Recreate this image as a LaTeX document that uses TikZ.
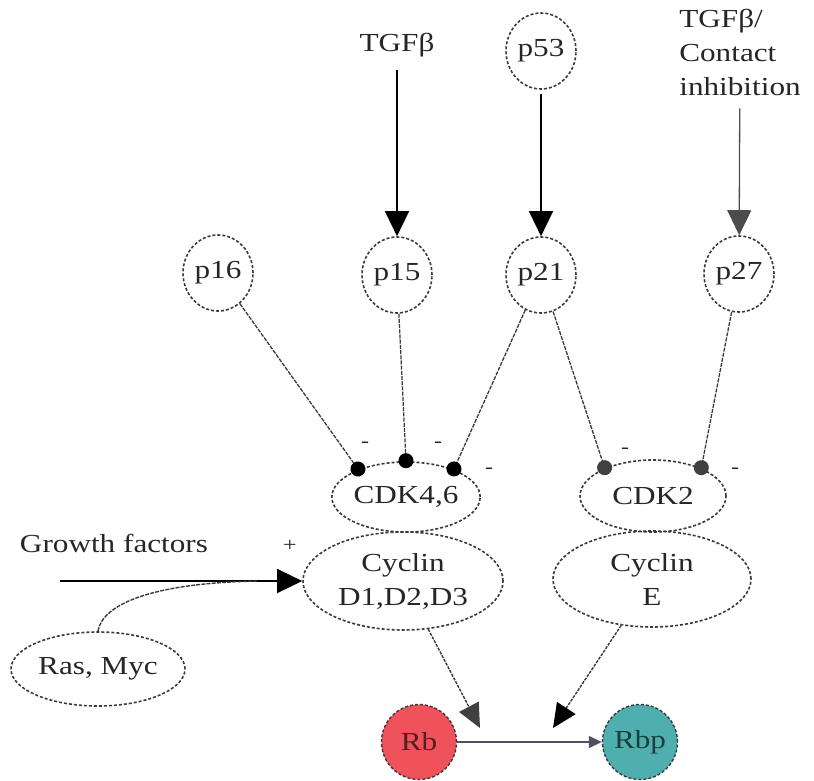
\documentclass[tikz,border=0pt]{standalone}
\usepackage{fontspec}
\setmainfont[FakeStretch=1.2]{Liberation Serif}
\usetikzlibrary{arrows.meta,shapes.geometric}
\definecolor{rbred}{HTML}{F0525C}
\definecolor{rbpteal}{HTML}{4FAEAE}
\definecolor{edgegray}{HTML}{3A3A3A}
\definecolor{arrgray}{HTML}{505060}
\tikzset{
  every node/.style={font=\fontsize{26}{34}\selectfont, text=black!85},
  prot/.style={ellipse, draw=edgegray, densely dashed, line width=1.6pt, inner sep=0pt, minimum width=70pt, minimum height=76pt},
  cplx/.style={ellipse, draw=edgegray, densely dashed, line width=1.6pt, inner sep=0pt, align=center},
  plain/.style={inner sep=1pt, align=left},
  sign/.style={inner sep=0pt, font=\fontsize{20}{20}\selectfont},
  actarr/.style={line width=1.3pt, shorten <=12pt, -{Triangle[length=25pt,width=24pt]}},
  inharr/.style={draw=edgegray, line width=1.3pt, dash pattern=on 4pt off 1.2pt, -{Circle[length=15pt]}, shorten >=-7pt},
  rbarr/.style={draw=edgegray, line width=1.4pt, dash pattern=on 3pt off 1.2pt, -{Triangle[length=24pt,width=22pt]}},
  rbnode/.style={circle, draw=edgegray, densely dashed, line width=1.4pt, minimum size=75pt, inner sep=0pt},
}
\begin{document}
\begin{tikzpicture}[x=1pt,y=-1pt]
\useasboundingbox (0,0) rectangle (814,781);
% top inputs
\node[plain] (tgfb) at (397,45) {TGFβ};
\node[prot] (p53) at (541,51) {p53};
\node[plain] (tgfbci) at (740,52) {TGFβ/\\Contact\\inhibition};
% inhibitors
\node[prot] (p16) at (218,273) {p16};
\node[prot] (p15) at (397,275) {p15};
\node[prot] (p21) at (541,275) {p21};
\node[prot] (p27) at (739,274) {p27};
% complexes
\node[cplx, minimum width=148pt, minimum height=70pt] (cdk46) at (406,497) {CDK4,6};
\node[cplx, minimum width=200pt, minimum height=98pt] (cycD) at (403,581) {Cyclin\\D1,D2,D3};
\node[cplx, minimum width=146pt, minimum height=72pt] (cdk2) at (653,496) {CDK2};
\node[cplx, minimum width=198pt, minimum height=96pt] (cycE) at (652,579) {Cyclin\\E};
% growth factors
\node[plain] (gf) at (114,543) {Growth factors};
\node[cplx, minimum width=174pt, minimum height=74pt] (rasmyc) at (98,669) {Ras, Myc};
\coordinate (gfstart) at (60,581);
\coordinate (gfmerge) at (258,581);
% Rb
\node[rbnode, fill=rbred, text=rbred!35!black] (rb) at (419,742) {Rb};
\node[rbnode, fill=rbpteal, text=rbpteal!35!black] (rbp) at (640,742) {Rbp};
\coordinate (rbin1) at (480,728);
\coordinate (rbin2) at (553,728);
% activation arrows
\draw[actarr, black] (tgfb) -- (p15);
\draw[actarr, black, shorten <=4pt] (p53) -- (p21);
\draw[actarr, black!70] (tgfbci) -- (p27);
\draw[actarr, black, shorten <=0pt] (gfstart) -- (gfstart -| cycD.west);
\draw[line width=1.4pt, dash pattern=on 4pt off 1.2pt, edgegray] (rasmyc.north) .. controls (102,605) and (150,583) .. (gfmerge);
% inhibition edges
\draw[inharr, -{Circle[length=15pt,black]}] (p16) -- (cdk46.150);
\draw[inharr, -{Circle[length=15pt,black]}] (p15) -- (cdk46.90);
\draw[inharr, -{Circle[length=15pt,black]}] (p21) -- (cdk46.30);
\draw[inharr, -{Circle[length=15pt,black!75]}] (p21) -- (cdk2.150);
\draw[inharr, -{Circle[length=15pt,black!75]}] (p27) -- (cdk2.30);
% signs
\node[sign] (m1) at (365,445) {-};
\node[sign] (m2) at (438,445) {-};
\node[sign] (m3) at (489,471) {-};
\node[sign] (m4) at (625,451) {-};
\node[sign] (m5) at (735,471) {-};
\node[sign] (pl) at (290,546) {+};
% to Rb
\draw[rbarr, -{Triangle[length=24pt,width=22pt,black!75]}] (cycD) -- (rbin1);
\draw[rbarr, -{Triangle[length=24pt,width=22pt,black]}] (cycE) -- (rbin2);
\draw[line width=1.4pt, draw=arrgray, -{Triangle[length=13pt,width=12pt]}] (rb) -- (rbp);
\end{tikzpicture}
\end{document}
